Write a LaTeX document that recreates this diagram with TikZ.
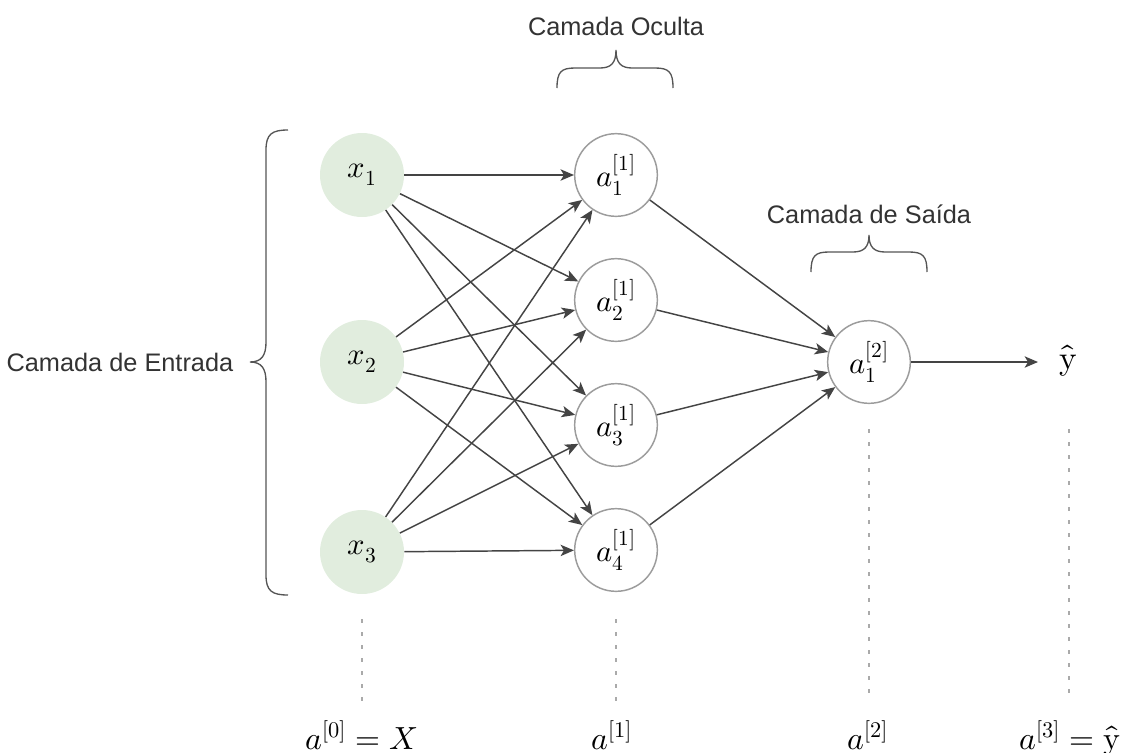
\documentclass[tikz,border=0pt]{standalone}
\usepackage{fontspec}
\setmainfont{Liberation Sans}
\usepackage{unicode-math}
\setmathfont{Latin Modern Math}
\usetikzlibrary{arrows.meta}
\definecolor{nodegreen}{HTML}{E1EDDE}
\definecolor{nodeborder}{HTML}{9C9C9C}
\definecolor{edgecol}{HTML}{444444}
\definecolor{bracecol}{HTML}{555555}
\definecolor{dashcol}{HTML}{AAAAAA}
\definecolor{txtcol}{HTML}{333333}
\tikzset{
  innode/.style={circle, fill=nodegreen, draw=none, minimum size=63pt, inner sep=0pt, font=\fontsize{23}{25}\selectfont},
  hidnode/.style={circle, fill=white, draw=nodeborder, line width=1.1pt, minimum size=62pt, inner sep=0pt, font=\fontsize{23}{25}\selectfont},
  conn/.style={draw=edgecol, line width=1.1pt, -{Stealth[length=10pt, width=8.5pt, inset=2.5pt]}},
  brace/.style={draw=bracecol, line width=1pt},
  guide/.style={draw=dashcol, line width=0.8pt, dash pattern=on 3pt off 6.75pt},
  lbl/.style={font=\fontsize{19}{21}\selectfont, text=txtcol},
  ylbl/.style={font=\fontsize{25}{27}\selectfont, text=black},
  mlbl/.style={font=\fontsize{24}{26}\selectfont, text=black, anchor=base, inner sep=0pt}
}
\begin{document}
\begin{tikzpicture}[x=0.75pt,y=-0.75pt]
\useasboundingbox (0,0) rectangle (1121,753);

% nodes
\node[innode] (x1) at (362,175) {$x_1$};
\node[innode] (x2) at (362,362) {$x_2$};
\node[innode] (x3) at (362,552) {$x_3$};
\node[hidnode] (h1) at (616,175) {$a_1^{[1]}$};
\node[hidnode] (h2) at (616,300) {$a_2^{[1]}$};
\node[hidnode] (h3) at (616,425) {$a_3^{[1]}$};
\node[hidnode] (h4) at (616,550) {$a_4^{[1]}$};
\node[hidnode] (o1) at (869,362) {$a_1^{[2]}$};
\node[ylbl] (yh) at (1068,361) {$\hat{\symup{y}}$};
\coordinate (yend) at (1038,362);

% connectors
\foreach \i in {1,2,3}{
  \foreach \j in {1,2,3,4}{
    \draw[conn] (x\i) -- (h\j);
  }
}
\foreach \j in {1,2,3,4}{
  \draw[conn] (h\j) -- (o1);
}
\draw[conn] (o1) -- (yend);

% braces
\draw[brace] (288,130) .. controls (272,130) and (266,134) .. (266,150) -- (266,342)
  .. controls (266,355) and (262,362) .. (250,362)
  .. controls (262,362) and (266,369) .. (266,382) -- (266,575)
  .. controls (266,591) and (272,595) .. (288,595);
\node[lbl, anchor=east] (lin) at (238,362) {Camada de Entrada};

\draw[brace] (557,88) .. controls (557,72) and (561,68) .. (575,68) -- (600,68)
  .. controls (611,68) and (616,63) .. (616,50)
  .. controls (616,63) and (621,68) .. (632,68) -- (655,68)
  .. controls (669,68) and (673,72) .. (673,88);
\node[lbl] (lhid) at (616,26) {Camada Oculta};

\draw[brace] (811,272) .. controls (811,256) and (815,252) .. (829,252) -- (853,252)
  .. controls (864,252) and (869,247) .. (869,235)
  .. controls (869,247) and (874,252) .. (885,252) -- (909,252)
  .. controls (923,252) and (927,256) .. (927,272);
\node[lbl] (lout) at (869,214) {Camada de Saída};

% guides
\coordinate (g0a) at (362,619); \coordinate (g0b) at (362,702);
\coordinate (g1a) at (616,619); \coordinate (g1b) at (616,702);
\coordinate (g2a) at (869,429); \coordinate (g2b) at (869,702);
\coordinate (g3a) at (1069,429); \coordinate (g3b) at (1069,702);
\draw[guide] (g0a) -- (g0b);
\draw[guide] (g1a) -- (g1b);
\draw[guide] (g2a) -- (g2b);
\draw[guide] (g3a) -- (g3b);

% bottom labels
\node[mlbl, anchor=base west] (b0) at (305,749) {$a^{[0]} = X$};
\node[mlbl] (b1) at (612,749) {$a^{[1]}$};
\node[mlbl] (b2) at (868,749) {$a^{[2]}$};
\node[mlbl, anchor=base west] (b3) at (1019,749) {$a^{[3]} = \hat{\symup{y}}$};
\end{tikzpicture}
\end{document}
